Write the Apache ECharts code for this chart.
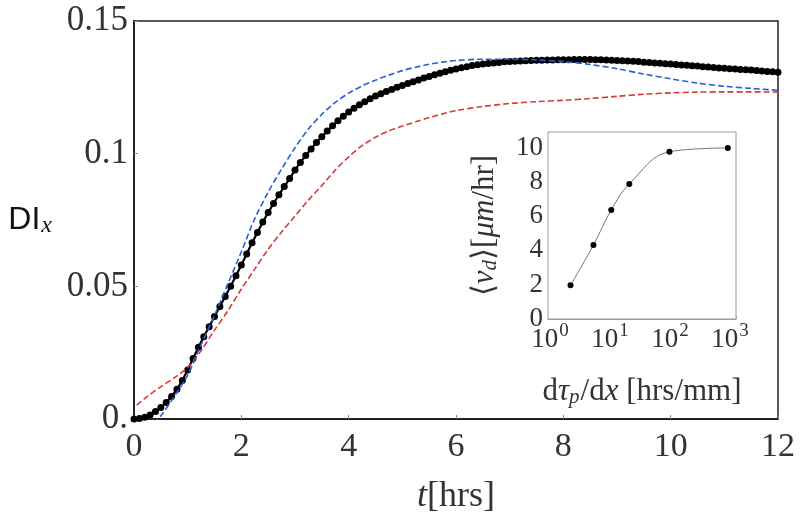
<!DOCTYPE html>
<html><head><meta charset="utf-8">
<script src="https://cdn.jsdelivr.net/npm/echarts@6/dist/echarts.min.js"></script>
<style>html,body{margin:0;padding:0;background:#fff}#c{width:800px;height:524px}</style>
</head><body><div id="c"></div>
<script>
// ---- main panel data: DI_x vs t[hrs] ----
const tBlack = [0,0.1,0.2,0.3,0.4,0.5,0.6,0.7,0.8,0.9,1.0,1.1,1.2,1.3,1.4,1.5,1.6,1.7,1.8,1.9,
  2.0,2.1,2.2,2.3,2.4,2.5,2.6,2.7,2.8,2.9,3.0,3.1,3.2,3.3,3.4,3.5,3.6,3.7,3.8,3.9,
  4.0,4.1,4.2,4.3,4.4,4.5,4.6,4.7,4.8,4.9,5.0,5.1,5.2,5.3,5.4,5.5,5.6,5.7,5.8,5.9,
  6.0,6.1,6.2,6.3,6.4,6.5,6.6,6.7,6.8,6.9,7.0,7.1,7.2,7.3,7.4,7.5,7.6,7.7,7.8,7.9,
  8.0,8.1,8.2,8.3,8.4,8.5,8.6,8.7,8.8,8.9,9.0,9.1,9.2,9.3,9.4,9.5,9.6,9.7,9.8,9.9,
  10.0,10.1,10.2,10.3,10.4,10.5,10.6,10.7,10.8,10.9,11.0,11.1,11.2,11.3,11.4,11.5,11.6,11.7,11.8,11.9,12.0];
const diBlack = [0.0000,0.0002,0.0007,0.0015,0.0028,0.0043,0.0062,0.0085,0.0112,0.0145,
  0.0185,0.0228,0.0270,0.0310,0.0348,0.0386,0.0424,0.0462,0.0500,0.0540,
  0.0580,0.0622,0.0664,0.0703,0.0742,0.0778,0.0812,0.0845,0.0876,0.0906,
  0.0938,0.0967,0.0993,0.1018,0.1042,0.1064,0.1085,0.1105,0.1124,0.1141,
  0.1157,0.1171,0.1184,0.1196,0.1207,0.1217,0.1226,0.1234,0.1242,0.1250,
  0.1257,0.1264,0.1271,0.1278,0.1285,0.1291,0.1297,0.1303,0.1309,0.1314,
  0.1319,0.1324,0.1328,0.1332,0.1335,0.1338,0.1340,0.1342,0.1344,0.1346,
  0.1347,0.1348,0.1349,0.1350,0.1351,0.1352,0.1352,0.1353,0.1353,0.1354,
  0.1354,0.1354,0.1355,0.1355,0.1355,0.1355,0.1354,0.1354,0.1353,0.1352,
  0.1351,0.1350,0.1349,0.1348,0.1347,0.1345,0.1344,0.1342,0.1341,0.1339,
  0.1338,0.1336,0.1334,0.1333,0.1331,0.1330,0.1328,0.1327,0.1325,0.1323,
  0.1322,0.1320,0.1319,0.1317,0.1316,0.1315,0.1313,0.1312,0.1310,0.1309,0.1307];

const tBlue = [0.25,0.5,0.75,1.0,1.25,1.5,1.75,2.0,2.25,2.5,2.75,3.0,3.25,3.5,3.75,4.0,4.25,4.5,4.75,
  5.0,5.25,5.5,5.75,6.0,6.5,7.0,7.5,8.0,8.5,9.0,9.5,10.0,10.5,11.0,11.5,12.0];
const diBlue = [-0.004,0.0012,0.0085,0.0165,0.0280,0.0390,0.0510,0.0630,0.0755,0.0855,0.0942,
  0.1022,0.1093,0.1148,0.1193,0.1228,0.1255,0.1277,0.1296,0.1313,0.1326,0.1337,0.1345,0.1351,
  0.1356,0.1356,0.1353,0.1347,0.1336,0.1320,0.1300,0.1282,0.1266,0.1254,0.1246,0.1239];

const tRed = [0.05,0.25,0.5,0.75,1.0,1.25,1.5,1.75,2.0,2.25,2.5,2.75,3.0,3.25,3.5,3.75,4.0,4.25,4.5,4.75,
  5.0,5.25,5.5,5.75,6.0,6.5,7.0,7.5,8.0,8.5,9.0,9.5,10.0,10.5,11.0,11.5,12.0];
const diRed = [0.0052,0.0085,0.0122,0.0155,0.0195,0.0258,0.0335,0.0408,0.0490,0.0565,0.0640,0.0705,
  0.0765,0.0825,0.0880,0.0938,0.0988,0.1030,0.1062,0.1086,0.1104,0.1120,0.1136,0.1150,0.1162,
  0.1178,0.1189,0.1196,0.1201,0.1208,0.1216,0.1224,0.1229,0.1232,0.1233,0.1233,0.1232];

const yTickText = {0:'0.', 5:'0.05', 10:'0.1', 15:'0.15'};

// ---- inset data: <v_d> vs dtau_p/dx ----
const gradTau = [2.2, 5.3, 10.5, 21, 98, 920];
const vDrift = [1.96, 4.31, 6.35, 7.87, 9.75, 9.97];

const zip = (a, b) => a.map((v, i) => [v, b[i]]);
const SERIF = 'Liberation Serif';
const TXT = '#333';

const chart = echarts.init(document.getElementById('c'), null, {renderer: 'canvas'});
chart.setOption({
  animation: false,
  backgroundColor: '#fff',
  textStyle: {fontFamily: SERIF},
  grid: [
    {left: 134, top: 21, width: 644, height: 398, show: true, borderColor: '#222', borderWidth: 1.5, containLabel: false},
    {left: 548, top: 132, width: 188, height: 187, show: true, borderColor: '#9a9a9a', borderWidth: 1, backgroundColor: '#fff', containLabel: false, z: 5}
  ],
  xAxis: [
    {type: 'value', gridIndex: 0, min: 0, max: 12, interval: 2,
      axisLine: {show: true, lineStyle: {color: '#222', width: 2}},
      axisTick: {show: true, inside: true, length: 4, lineStyle: {color: '#888'}},
      axisLabel: {color: TXT, fontSize: 34, fontFamily: SERIF, margin: 11},
      splitLine: {show: false},
      name: '{i|t}{n|[hrs]}', nameLocation: 'middle', nameGap: 60,
      nameTextStyle: {rich: {i: {fontSize: 36, fontStyle: 'italic', fontFamily: SERIF, color: TXT},
                             n: {fontSize: 36, fontFamily: SERIF, color: TXT}}}},
    {type: 'log', gridIndex: 1, logBase: 10, min: 0.927, max: 1259,
      axisLine: {show: true, lineStyle: {color: '#9a9a9a', width: 1}},
      axisTick: {show: true, inside: true, length: 3, lineStyle: {color: '#aaa'}},
      splitLine: {show: false}, minorTick: {show: false},
      axisLabel: {margin: 3, color: TXT,
        formatter: function (v) {
          const l = Math.log10(v);
          if (Math.abs(l - Math.round(l)) > 1e-6) return '';
          return '{b|10}{s|' + Math.round(l) + '}';
        },
        rich: {b: {fontSize: 27, fontFamily: SERIF, color: TXT},
               s: {fontSize: 19, fontFamily: SERIF, color: TXT, padding: [0, 0, 16, 1]}}},
      name: '{n|d}{i|τ}{sub|p}{n|/d}{i|x}{n| [hrs/mm]}', nameLocation: 'middle', nameGap: 56,
      nameTextStyle: {rich: {n: {fontSize: 31, fontFamily: SERIF, color: TXT},
                             i: {fontSize: 31, fontFamily: SERIF, fontStyle: 'italic', color: TXT},
                             sub: {fontSize: 21, fontFamily: SERIF, fontStyle: 'italic', color: TXT, padding: [12, 1, 0, 0]}}}}
  ],
  yAxis: [
    {type: 'value', gridIndex: 0, min: 0, max: 0.15, interval: 0.05,
      axisLine: {show: true, lineStyle: {color: '#222', width: 2}},
      axisTick: {show: true, inside: true, length: 4, lineStyle: {color: '#888'}},
      axisLabel: {color: TXT, fontSize: 35, fontFamily: SERIF, margin: 6,
        formatter: v => yTickText[Math.round(v * 100)] || ''},
      splitLine: {show: false},
      name: '{a|DI}{b|x}', nameLocation: 'middle', nameRotate: 0, nameGap: 82,
      nameTextStyle: {rich: {a: {fontSize: 32, fontFamily: 'Liberation Sans', color: '#111'},
                             b: {fontSize: 24, fontFamily: SERIF, fontStyle: 'italic', color: '#111', padding: [12, 0, 0, 1]}}}},
    {type: 'value', gridIndex: 1, min: 0, max: 10.9, interval: 2,
      axisLine: {show: true, lineStyle: {color: '#9a9a9a', width: 1}},
      axisTick: {show: true, inside: true, length: 3, lineStyle: {color: '#aaa'}},
      axisLabel: {color: TXT, fontSize: 27, fontFamily: SERIF, margin: 5,
        formatter: v => (v > 10.5 ? '' : String(v))},
      splitLine: {show: false},
      name: '{n|⟨}{i|v}{sub|d}{n|⟩[}{i|μm}{n|/hr]}', nameLocation: 'middle', nameGap: 47,
      nameTextStyle: {rich: {n: {fontSize: 31, fontFamily: SERIF, color: TXT},
                             i: {fontSize: 31, fontFamily: SERIF, fontStyle: 'italic', color: TXT},
                             sub: {fontSize: 21, fontFamily: SERIF, fontStyle: 'italic', color: TXT, padding: [12, 0, 0, 0]}}}}
  ],
  series: [
    {type: 'line', xAxisIndex: 0, yAxisIndex: 0, data: zip(tBlack, diBlack),
      symbol: 'circle', symbolSize: 7, showSymbol: true, showAllSymbol: true,
      itemStyle: {color: '#000'}, lineStyle: {color: '#000', width: 2.2}, z: 2},
    {type: 'line', xAxisIndex: 0, yAxisIndex: 0, data: zip(tRed, diRed), smooth: 0.3,
      showSymbol: false, lineStyle: {color: '#d63a3a', width: 1.6, type: [6, 3]}, z: 3},
    {type: 'line', xAxisIndex: 0, yAxisIndex: 0, data: zip(tBlue, diBlue), smooth: 0.3,
      showSymbol: false, lineStyle: {color: '#2b5fd4', width: 1.6, type: [6, 3]}, z: 4},
    {type: 'line', xAxisIndex: 1, yAxisIndex: 1, data: zip(gradTau, vDrift), smooth: 0.4,
      symbol: 'circle', symbolSize: 6, showSymbol: true,
      itemStyle: {color: '#000'}, lineStyle: {color: '#777', width: 1}, z: 10}
  ]
});
</script></body></html>
